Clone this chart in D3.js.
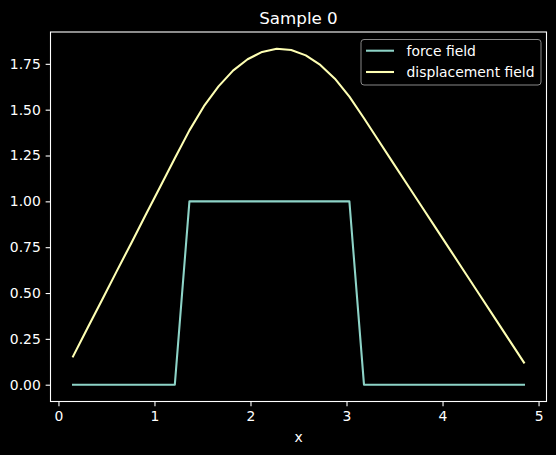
<!DOCTYPE html>
<html>
<head>
<meta charset="utf-8">
<script src="https://cdn.jsdelivr.net/npm/d3@7"></script>
<style>
  html, body { margin: 0; padding: 0; background: #000; }
  svg { display: block; }
  text { font-family: "DejaVu Sans", sans-serif; fill: #fff; }
</style>
</head>
<body>
<svg id="chart" width="556" height="455"></svg>
<script>
// ---- data ----
const xValues = [0.152, 0.303, 0.455, 0.606, 0.758, 0.909, 1.061, 1.212, 1.364, 1.515,
                 1.667, 1.818, 1.970, 2.121, 2.273, 2.424, 2.576, 2.727, 2.879, 3.030,
                 3.182, 3.333, 3.485, 3.636, 3.788, 3.939, 4.091, 4.242, 4.394, 4.545,
                 4.697, 4.848];
const forceField = [0, 0, 0, 0, 0, 0, 0, 0, 1, 1,
                    1, 1, 1, 1, 1, 1, 1, 1, 1, 1,
                    0, 0, 0, 0, 0, 0, 0, 0, 0, 0,
                    0, 0];
const displacementField = [0.154, 0.309, 0.463, 0.618, 0.772, 0.927, 1.081, 1.235, 1.387, 1.519,
                           1.627, 1.713, 1.775, 1.815, 1.832, 1.825, 1.796, 1.744, 1.669, 1.571,
                           1.453, 1.332, 1.210, 1.089, 0.968, 0.847, 0.726, 0.605, 0.484, 0.363,
                           0.242, 0.121];
const seriesNames = ["force field", "displacement field"];
const seriesColors = ["#8dd3c7", "#feffb3"];
const xTicks = [0, 1, 2, 3, 4, 5];
const yTicks = [0, 0.25, 0.5, 0.75, 1.0, 1.25, 1.5, 1.75];
const titleText = "Sample 0";
const xLabel = "x";

// ---- layout ----
const svg = d3.select("#chart");
const L = 50.5, R = 546.5, T = 32, B = 401.5;
const fs = 13.9;

const xMin = d3.min(xValues), xMax = d3.max(xValues);
const xm = (xMax - xMin) * 0.05;
const x = d3.scaleLinear().domain([xMin - xm, xMax + xm]).range([L, R]);
const allY = forceField.concat(displacementField);
const yMin = d3.min(allY), yMax = d3.max(allY);
const ym = (yMax - yMin) * 0.05;
const y = d3.scaleLinear().domain([yMin - ym, yMax + ym]).range([B, T]);

// lines
const line = d3.line().x((d, i) => x(xValues[i])).y(d => y(d));
[forceField, displacementField].forEach((s, k) => {
  svg.append("path").datum(s)
    .attr("d", line)
    .attr("fill", "none")
    .attr("stroke", seriesColors[k])
    .attr("stroke-width", 2.08)
    .attr("stroke-linejoin", "round")
    .attr("stroke-linecap", "square");
});

// axes
const xAxis = d3.axisBottom(x).tickValues(xTicks).tickFormat(d3.format("d"))
  .tickSize(4.86).tickPadding(4.6);
const gx = svg.append("g").attr("transform", `translate(0,${B})`).call(xAxis);
const yAxis = d3.axisLeft(y).tickValues(yTicks).tickFormat(d3.format(".2f"))
  .tickSize(4.86).tickPadding(4.86);
const gy = svg.append("g").attr("transform", `translate(${L},0)`).call(yAxis);
[gx, gy].forEach(g => {
  g.select(".domain").remove();
  g.selectAll(".tick line").attr("stroke", "#fff").attr("stroke-width", 1.1);
  g.selectAll(".tick text").attr("fill", "#fff").style("font-size", fs + "px")
    .style("font-family", "DejaVu Sans, sans-serif");
});

// frame
svg.append("rect").attr("x", L).attr("y", T).attr("width", R - L).attr("height", B - T)
  .attr("fill", "none").attr("stroke", "#fff").attr("stroke-width", 1.1);

// title & label
svg.append("text").attr("x", (L + R) / 2).attr("y", 24).attr("text-anchor", "middle")
  .style("font-size", "16.7px").text(titleText);
svg.append("text").attr("x", (L + R) / 2).attr("y", 441.5).attr("text-anchor", "middle")
  .style("font-size", fs + "px").text(xLabel);

// legend
const lg = svg.append("g");
lg.append("rect").attr("x", 361).attr("y", 39.5).attr("width", 180).attr("height", 45.5)
  .attr("rx", 3).attr("ry", 3)
  .attr("fill", "#000").attr("fill-opacity", 0.8)
  .attr("stroke", "#888").attr("stroke-width", 1);
seriesNames.forEach((n, k) => {
  const yy = 50.7 + k * 21.3;
  lg.append("line").attr("x1", 366).attr("x2", 394).attr("y1", yy).attr("y2", yy)
    .attr("stroke", seriesColors[k]).attr("stroke-width", 2.08);
  lg.append("text").attr("x", 406.5).attr("y", yy + 4.9)
    .style("font-size", fs + "px").text(n);
});
</script>
</body>
</html>
